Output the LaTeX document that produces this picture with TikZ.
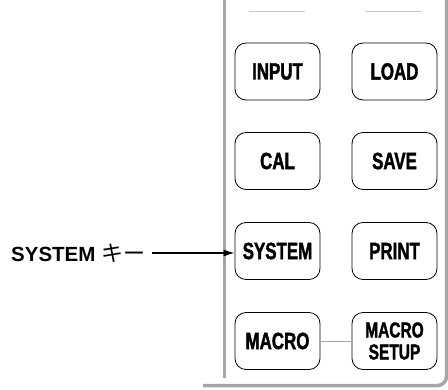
\documentclass[tikz,border=0pt]{standalone}
\usepackage{fontspec}
\setmainfont{Liberation Sans}
\newfontfamily\keyfont[FakeStretch=0.72,FakeBold=1.6]{Liberation Sans}
\newfontfamily\cjk{Noto Sans CJK JP}
\usetikzlibrary{arrows.meta}
\definecolor{panelgray}{RGB}{165,165,170}
\definecolor{rulegray}{RGB}{200,200,204}

\begin{document}
\begin{tikzpicture}[x=1pt, y=-1pt,
    key/.style={draw, line width=0.8pt, rounded corners=11pt, minimum width=85pt, minimum height=57pt,
        inner sep=0pt, align=center, font=\keyfont\bfseries\fontsize{23.5}{21}\selectfont},
    panel/.style={panelgray, line width=3.5pt}]

    \useasboundingbox (0,0) rectangle (448,389);

    % panel edge
    \draw[panel] (224.5,0) -- (224.5,378);
    \draw[panel, rounded corners=9pt] (203,385.5) -- (446.5,385.5) -- (446.5,0);
    \draw[rulegray, line width=1pt] (249,11) -- (305,11);
    \draw[rulegray, line width=1pt] (365,11) -- (422,11);

    % keys
    \node[key] (input) at (277.5,71.5) {INPUT};
    \node[key] (load) at (394.5,71.5) {LOAD};
    \node[key] (cal) at (277.5,161) {CAL};
    \node[key] (save) at (394.5,161) {SAVE};
    \node[key] (system) at (277.5,251) {SYSTEM};
    \node[key] (print) at (394.5,251) {PRINT};
    \node[key] (macro) at (277.5,341) {MACRO};
    \node[key, font=\keyfont\bfseries\fontsize{21.5}{22}\selectfont] (msetup) at (394.5,341) {MACRO\\SETUP};

    \draw[panelgray, line width=1pt] (macro) -- (msetup);

    % label
    \node[anchor=west, inner sep=0pt, font=\bfseries\fontsize{20.5}{24}\selectfont] (syslbl) at (11,253)
        {SYSTEM {\cjk\mdseries\fontsize{22}{24}\selectfont キー}};
    \draw[-{Latex[length=11pt,width=7pt]}, line width=1.1pt, shorten <=7pt]
        (syslbl.east) -- (syslbl.east -| system.west);

\end{tikzpicture}
\end{document}
